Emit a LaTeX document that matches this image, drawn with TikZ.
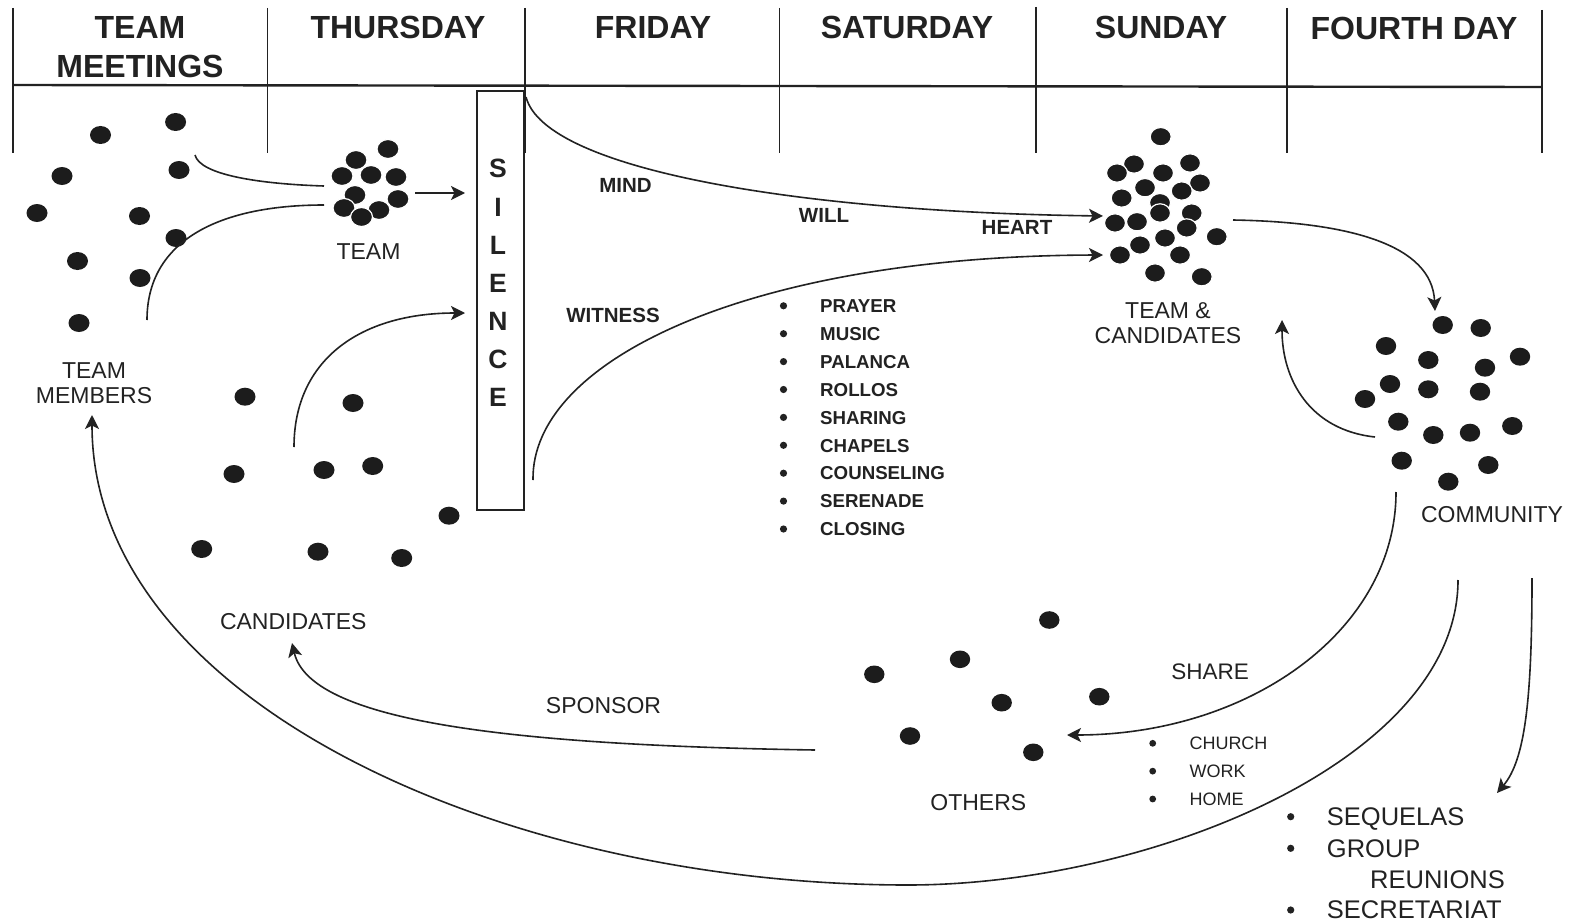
\documentclass[tikz,border=0pt]{standalone}
\usepackage{fontspec}
\setmainfont{Liberation Sans}
\usetikzlibrary{arrows.meta}
\definecolor{ink}{HTML}{222222}
\definecolor{dotc}{HTML}{1C1C1C}
\begin{document}
\begin{tikzpicture}[x=1pt,y=-1pt,
  line/.style={draw=ink, line width=1.6pt},
  arr/.style={line, -{Stealth[length=14pt,width=14pt,inset=3.5pt]}},
  hdr/.style={font=\fontsize{32}{38.4}\selectfont\bfseries, text=ink, inner sep=0pt},
  lbl/.style={font=\fontsize{23}{24.5}\selectfont, text=ink, inner sep=0pt},
  blbl/.style={font=\fontsize{20.5}{22}\selectfont\bfseries, text=ink, inner sep=0pt},
  sitem/.style={font=\fontsize{18.7}{20}\selectfont\bfseries, text=ink, inner sep=0pt, anchor=base west},
  citem/.style={font=\fontsize{18}{20}\selectfont, text=ink, inner sep=0pt, anchor=base west},
  qitem/.style={font=\fontsize{25.5}{31}\selectfont, text=ink, inner sep=0pt, anchor=base west},
  blt/.style={fill=ink},
  dot/.style={fill=dotc},
  odot/.style={fill=dotc, draw=white, line width=1.2pt},
  silbox/.style={draw=ink, line width=1.3pt, minimum width=47pt, minimum height=419pt, inner sep=0pt},
  sil/.style={font=\fontsize{26.5}{38.1}\selectfont\bfseries, text=ink, inner sep=0pt, align=center},
]
\useasboundingbox (0,0) rectangle (1577,923);
\fill[white] (0,0) rectangle (1577,923);

% ---------- header grid ----------
\draw[line, line width=2.4pt] (13,85) -- (1542,87);
\foreach \x/\t in {13/8, 267.5/8, 525/8, 779.4/8, 1035.9/7, 1287.3/8, 1541.7/10}
  \draw[line, line width=1.8pt] (\x,\t) -- (\x,153);

\node[hdr, align=center] (hTeam) at (140,47.3) {TEAM\\MEETINGS};
\node[hdr] (hThu) at (398,27.5) {THURSDAY};
\node[hdr] (hFri) at (653,27.5) {FRIDAY};
\node[hdr] (hSat) at (907,27.5) {SATURDAY};
\node[hdr] (hSun) at (1161,27.5) {SUNDAY};
\node[hdr] (hFour) at (1414,28) {FOURTH DAY};

% ---------- silence box ----------
\node[silbox] (silence) at (500.5,300.5) {};
\node[sil] (silText) at (498,283) {S\\I\\L\\E\\N\\C\\E};

% ---------- dots ----------
% team members
\foreach \p in {(175.6,122),(100.5,135),(179,170),(62,176),(37,213),(139.5,216),(176,238),(77.5,261),(140,278),(79,323)}
  \fill[dot] \p ellipse[x radius=10.5pt, y radius=9pt];
% team
\foreach \p in {(388,149),(356,160),(342,176),(371,175),(396,177),(355,195),(398,199),(344,208),(379,210),(361.5,217)}
  \filldraw[odot] \p ellipse[x radius=11pt, y radius=9.5pt];
% candidates
\foreach \p in {(245,396.7),(353,403),(234,474),(324,470),(372.7,466),(449,515.7),(201.7,549),(318,551.7),(401.7,558)}
  \fill[dot] \p ellipse[x radius=10.5pt, y radius=9pt];
% team & candidates
\foreach \p in {(1160.7,136.7),(1134,164),(1117,173),(1190,163),(1163,173),(1145,187.7),(1200,183),(1181.7,191),(1121.7,198),(1160,202.7),(1160,213),(1191.7,213),(1115,223),(1137,221.7),(1186.7,228),(1216.7,236.7),(1165,238),(1140,245),(1120,255),(1180,255),(1155,273),(1201.7,276.7)}
  \filldraw[odot] \p ellipse[x radius=10.5pt, y radius=9.2pt];
% community
\foreach \p in {(1442.7,325),(1480.7,328),(1386,346),(1428.3,360),(1520,356.7),(1485,367.7),(1390,384),(1428.3,389.3),(1480,391.7),(1365,399),(1398.3,421.7),(1433.3,435),(1470,432.7),(1512.3,426),(1401.7,460.7),(1488.3,465),(1448.3,481.7)}
  \fill[dot] \p ellipse[x radius=10.2pt, y radius=9pt];
% others
\foreach \p in {(1049.3,620),(960,659.3),(874.3,674.3),(1001.7,702.7),(1099.3,696.7),(910,736),(1033.3,752.3)}
  \fill[dot] \p ellipse[x radius=10.2pt, y radius=8.8pt];

% ---------- labels ----------
\node[lbl] (lTeam) at (368.5,252) {TEAM};
\node[lbl, align=center] (lMembers) at (94,383) {TEAM\\MEMBERS};
\node[lbl] (lCand) at (293.3,621.7) {CANDIDATES};
\node[lbl, align=center] (lTC) at (1168,323.3) {TEAM \&\\CANDIDATES};
\node[lbl] (lComm) at (1492,515) {COMMUNITY};
\node[lbl] (lOthers) at (978.3,802.3) {OTHERS};
\node[lbl] (lSponsor) at (603.5,706) {SPONSOR};
\node[lbl, font=\fontsize{22.5}{24}\selectfont] (lShare) at (1210,672) {SHARE};
\node[blbl] (lMind) at (625.5,185.7) {MIND};
\node[blbl] (lWill) at (824,215.7) {WILL};
\node[blbl] (lHeart) at (1017,227.3) {HEART};
\node[blbl] (lWitness) at (613,315) {WITNESS};

% saturday list
\foreach \t [count=\i from 0] in {PRAYER,MUSIC,PALANCA,ROLLOS,SHARING,CHAPELS,COUNSELING,SERENADE,CLOSING}{
  \fill[blt] (783.5,305.8+27.9*\i) circle[radius=3.6pt];
  \node[sitem] (sat\i) at (820,312.5+27.9*\i) {\t};
}
% church list
\foreach \t [count=\i from 0] in {CHURCH,WORK,HOME}{
  \fill[blt] (1152.7,743.3+27.85*\i) circle[radius=3.4pt];
  \node[citem] (ch\i) at (1189.3,749.7+27.85*\i) {\t};
}
% fourth day list
\fill[blt] (1290.7,816.7) circle[radius=3.6pt];
\fill[blt] (1290.7,848.3) circle[radius=3.6pt];
\fill[blt] (1290.7,910) circle[radius=3.6pt];
\node[qitem] (qSeq) at (1326.7,825.8) {SEQUELAS};
\node[qitem] (qGroup) at (1326.7,857.4) {GROUP};
\node[qitem] (qReun) at (1370,888.4) {REUNIONS};
\node[qitem] (qSec) at (1326.7,918.4) {SECRETARIAT};

% ---------- connector endpoints ----------
\coordinate (tmA) at (195,155);
\coordinate (teamA) at (324,186);
\coordinate (tmB) at (147,320);
\coordinate (teamB) at (324,205);
\coordinate (teamOut) at (415,193);
\coordinate (silIn1) at (465,193);
\coordinate (candOut) at (294,447);
\coordinate (silIn2) at (465,313);
\coordinate (silOut1) at (526,97);
\coordinate (tcIn1) at (1103,216);
\coordinate (silOut2) at (533,480);
\coordinate (tcIn2) at (1103,255);
\coordinate (tcOut) at (1233,220);
\coordinate (comIn) at (1435,311);
\coordinate (comOut1) at (1375,437);
\coordinate (tcIn3) at (1282,320);
\coordinate (comOut2) at (1396,492);
\coordinate (othIn) at (1067,735);
\coordinate (comOut3) at (1458,580);
\coordinate (arcBottom) at (908,885);
\coordinate (tmIn) at (92,415);
\coordinate (comOut4) at (1532,578);
\coordinate (seqIn) at (1497,793);
\coordinate (othOut) at (815,750);
\coordinate (candIn) at (292,643);

% ---------- connectors ----------
\draw[line] (tmA) .. controls (200,175) and (260,184) .. (teamA);
\draw[line] (tmB) .. controls (147,240) and (220,205) .. (teamB);
\draw[arr] (teamOut) -- (silIn1);
\draw[arr] (candOut) .. controls (294,360) and (360,313) .. (silIn2);
\draw[arr] (silOut1) .. controls (545,170) and (800,212) .. (tcIn1);
\draw[arr] (silOut2) .. controls (531,360) and (750,256) .. (tcIn2);
\draw[arr] (tcOut) .. controls (1350,222) and (1432,245) .. (comIn);
\draw[arr] (comOut1) .. controls (1310,430) and (1282,380) .. (tcIn3);
\draw[arr] (comOut2) .. controls (1396,630) and (1250,735) .. (othIn);
\draw[arr] (comOut3) .. controls (1458,760) and (1150,885) .. (arcBottom)
                     .. controls (500,885) and (92,700) .. (tmIn);
\draw[arr] (comOut4) .. controls (1532,700) and (1525,760) .. (seqIn);
\draw[arr] (othOut) .. controls (500,745) and (310,720) .. (candIn);
\end{tikzpicture}
\end{document}
